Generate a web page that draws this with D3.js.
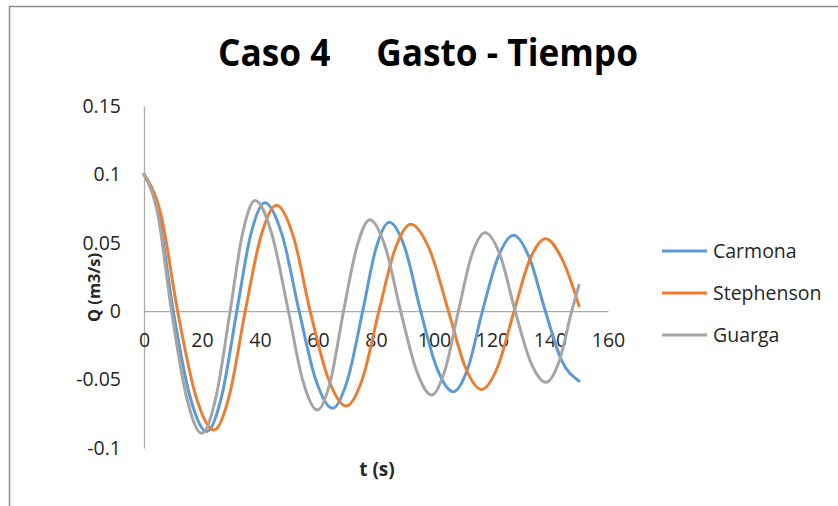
<!DOCTYPE html>
<html>
<head>
<meta charset="utf-8">
<script src="https://cdn.jsdelivr.net/npm/d3@7"></script>
<style>
  html, body { margin: 0; padding: 0; background: #fff; }
  svg { display: block; font-family: "Open Sans", "Liberation Sans", sans-serif; }
</style>
</head>
<body>
<svg id="chart" width="838" height="506"></svg>
<script>
// ---- data ----
const seriesNames = ["Carmona", "Stephenson", "Guarga"];
const seriesColors = ["#5B9BD5", "#ED7D31", "#A5A5A5"];

const carmonaT = [0, 5.0, 10.1, 15.8, 21.6, 26.8, 32.0, 36.8, 41.7, 47.6, 53.5, 59.2, 65.0, 70.2, 75.4, 80.0, 84.6, 90.0, 95.4, 101.0, 106.7, 111.7, 116.7, 122.0, 127.4, 132.9, 138.4, 144.0, 150];
const carmonaQ = [0.100, 0.071, 0, -0.062, -0.088, -0.062, 0, 0.056, 0.0793, 0.056, 0, -0.050, -0.071, -0.050, 0, 0.046, 0.065, 0.046, 0, -0.0416, -0.0589, -0.0416, 0, 0.039, 0.0555, 0.039, 0, -0.036, -0.051];

const stephensonT = [0, 5.8, 11.6, 17.8, 24.1, 29.5, 34.9, 40.3, 45.7, 51.5, 57.3, 63.5, 69.7, 75.4, 81.0, 86.5, 92.0, 98.5, 105.0, 110.7, 116.4, 122.0, 127.6, 133.0, 138.5, 144.3, 150];
const stephensonQ = [0.100, 0.071, 0, -0.0614, -0.0869, -0.061, 0, 0.0547, 0.0774, 0.0547, 0, -0.049, -0.0693, -0.049, 0, 0.0449, 0.0635, 0.0449, 0, -0.0404, -0.0572, -0.0404, 0, 0.0375, 0.053, 0.0375, 0.004];

const guargaT = [0, 4.75, 9.5, 14.7, 19.9, 24.8, 29.7, 34.0, 38.3, 44.0, 49.8, 54.8, 59.8, 64.3, 68.8, 73.4, 77.9, 83.2, 88.5, 93.9, 99.2, 103.8, 108.4, 113.0, 117.6, 122.8, 128.0, 133.3, 138.6, 143.1, 147.5, 150];
const guargaQ = [0.100, 0.071, 0, -0.063, -0.0893, -0.063, 0, 0.057, 0.081, 0.057, 0, -0.051, -0.0723, -0.051, 0, 0.047, 0.0669, 0.047, 0, -0.043, -0.0613, -0.043, 0, 0.041, 0.0574, 0.041, 0, -0.037, -0.052, -0.037, 0, 0.019];

const xTicks = [0, 20, 40, 60, 80, 100, 120, 140, 160];
const yTicks = [0.15, 0.1, 0.05, 0, -0.05, -0.1];
const yTickLabels = ["0.15", "0.1", "0.05", "0", "-0.05", "-0.1"];

const titleText = "Caso 4     Gasto - Tiempo";
const xTitle = "t (s)";
const yTitle = "Q (m3/s)";

// ---- drawing ----
const svg = d3.select("#chart");

// outer chart frame (top and left edges visible)
svg.append("path")
  .attr("d", "M9.5,506 V6.5 H838")
  .attr("fill", "none")
  .attr("stroke", "#8C8C8C")
  .attr("stroke-width", 1.5);

const x = d3.scaleLinear().domain([0, 160]).range([144, 608]);
const y = d3.scaleLinear().domain([-0.1, 0.15]).range([448, 106]);

const axisColor = "#ABABAB";
const textColor = "#262626";

// y axis
const yAxis = svg.append("g")
  .attr("transform", `translate(${x(0)},0)`)
  .call(d3.axisLeft(y).tickValues(yTicks).tickSize(0).tickSizeOuter(0).tickPadding(23)
    .tickFormat((d, i) => yTickLabels[i]));
yAxis.select(".domain").attr("stroke", axisColor).attr("stroke-width", 1.3);
yAxis.selectAll("text").attr("font-size", 19.5).attr("fill", textColor)
  .attr("font-family", "'Open Sans', sans-serif");

// x axis at y = 0
const xAxis = svg.append("g")
  .attr("transform", `translate(0,${y(0)})`)
  .call(d3.axisBottom(x).tickValues(xTicks).tickSize(0).tickSizeOuter(0).tickPadding(22)
    .tickFormat(d3.format("d")));
xAxis.select(".domain").attr("stroke", axisColor).attr("stroke-width", 1.3);
xAxis.selectAll("text").attr("font-size", 19.5).attr("fill", textColor)
  .attr("font-family", "'Open Sans', sans-serif");

// series
const allSeries = [
  { name: seriesNames[0], color: seriesColors[0], t: carmonaT, q: carmonaQ },
  { name: seriesNames[1], color: seriesColors[1], t: stephensonT, q: stephensonQ },
  { name: seriesNames[2], color: seriesColors[2], t: guargaT, q: guargaQ }
];

const line = d3.line()
  .x(d => x(d[0]))
  .y(d => y(d[1]))
  .curve(d3.curveMonotoneX);

svg.append("g").selectAll("path.series")
  .data(allSeries)
  .join("path")
  .attr("class", "series")
  .attr("fill", "none")
  .attr("stroke", d => d.color)
  .attr("stroke-width", 3)
  .attr("stroke-linejoin", "round")
  .attr("stroke-linecap", "round")
  .attr("d", d => line(d.t.map((t, i) => [t, d.q[i]])));

// title
svg.append("text")
  .attr("x", 428)
  .attr("y", 66)
  .attr("text-anchor", "middle")
  .attr("font-size", 37)
  .attr("font-weight", "bold")
  .attr("fill", "#000")
  .attr("textLength", 420)
  .attr("lengthAdjust", "spacingAndGlyphs")
  .style("white-space", "pre")
  .text(titleText);

// axis titles
svg.append("text")
  .attr("x", 377)
  .attr("y", 476)
  .attr("text-anchor", "middle")
  .attr("font-size", 19)
  .attr("font-weight", "bold")
  .attr("fill", textColor)
  .text(xTitle);

svg.append("text")
  .attr("x", 0)
  .attr("y", 0)
  .attr("transform", "translate(100,322) rotate(-90)")
  .attr("text-anchor", "start")
  .attr("font-size", 16.5)
  .attr("font-weight", "bold")
  .attr("fill", textColor)
  .attr("textLength", 69)
  .attr("lengthAdjust", "spacingAndGlyphs")
  .text(yTitle);

// legend
const legendY = d3.scalePoint().domain(seriesNames).range([251, 335]);
const legend = svg.append("g").selectAll("g")
  .data(allSeries)
  .join("g")
  .attr("transform", d => `translate(0,${legendY(d.name)})`);
legend.append("line")
  .attr("x1", 662).attr("x2", 707)
  .attr("y1", 0).attr("y2", 0)
  .attr("stroke", d => d.color)
  .attr("stroke-width", 3);
legend.append("text")
  .attr("x", 713)
  .attr("y", 0)
  .attr("dy", "0.35em")
  .attr("font-size", 19.5)
  .attr("fill", textColor)
  .text(d => d.name);
</script>
</body>
</html>
